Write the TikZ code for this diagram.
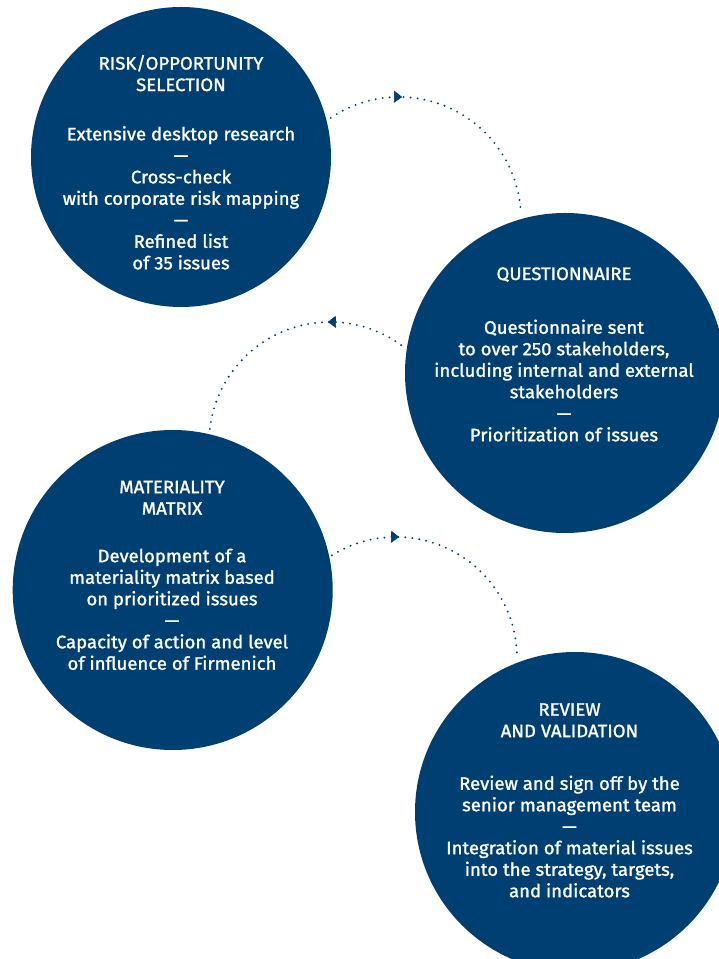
\documentclass[tikz,border=0pt]{standalone}
\usepackage{fontspec}
\setmainfont{Fira Sans}[FakeBold=1.4,FakeStretch=1.03]
\usetikzlibrary{arrows.meta,decorations.markings}
\definecolor{navy}{RGB}{0,63,114}
\newcommand{\sepdash}{—}
\begin{document}
\begin{tikzpicture}[x=1pt,y=1pt,
  bubble/.style={circle,fill=navy,draw=none,inner sep=0pt},
  txt/.style={text=white,align=center,inner sep=0pt,font=\fontsize{18}{21.5}\selectfont},
  flow/.style={navy,line width=2.1pt,line cap=round,dash pattern=on 0pt off 7pt},
  tipat/.style={postaction={decorate,decoration={markings,mark=at position #1 with {\arrow[navy,line width=0.6pt]{Triangle[length=8pt,width=12pt]}}}}}
]
\useasboundingbox (0,0) rectangle (719,959);
\clip (0,0) rectangle (719,959);
% arc centres
\coordinate (a1) at (399,740);
\coordinate (a2) at (330,516);
\coordinate (a3) at (396,301);
% dotted connectors
\draw[flow,tipat=0.293] (a1) ++(124:122pt) arc[start angle=124,end angle=3,radius=122pt];
\draw[flow,tipat=0.306] (a2) ++(54:121pt) arc[start angle=54,end angle=175,radius=121pt];
\draw[flow,tipat=0.279] (a3) ++(122:121pt) arc[start angle=122,end angle=2,radius=121pt];
% circles
\node[bubble,minimum size=300pt] (c1) at (181,802) {};
\node[bubble,minimum size=320pt] (c2) at (565,586) {};
\node[bubble,minimum size=320pt] (c3) at (172.7,369) {};
\node[bubble,minimum size=320pt] (c4) at (575,147) {};
% texts
\node[txt] (t1) at (181,883) {\strut RISK/OPPORTUNITY\\SELECTION\strut};
\node[txt] (b1) at (181,758.5) {\strut Extensive desktop research\\\sepdash\\Cross-check\\with corporate risk mapping\\\sepdash\\Refined list\\of 35 issues\strut};
\node[txt] (t2) at (564,683.3) {\strut QUESTIONNAIRE\strut};
\node[txt] (b2) at (564,575.8) {\strut Questionnaire sent\\to over 250 stakeholders,\\including internal and external\\stakeholders\\\sepdash\\Prioritization of issues\strut};
\node[txt] (t3) at (172,459.3) {\strut MATERIALITY\\MATRIX\strut};
\node[txt] (b3) at (172,347.3) {\strut Development of a\\materiality matrix based\\on prioritized issues\\\sepdash\\Capacity of action and level\\of influence of Firmenich\strut};
\node[txt] (t4) at (569.5,236.8) {\strut REVIEW\\AND VALIDATION\strut};
\node[txt] (b4) at (569.5,119.8) {\strut Review and sign off by the\\senior management team\\\sepdash\\Integration of material issues\\into the strategy, targets,\\and indicators\strut};
\end{tikzpicture}
\end{document}
